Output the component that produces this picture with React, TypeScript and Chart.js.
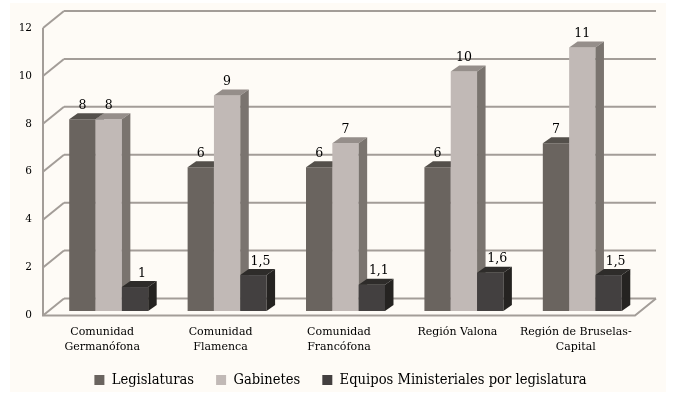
import { useEffect, useRef } from 'react';
import { Chart, registerables } from 'chart.js';

Chart.register(...registerables);

const categories: (string | string[])[] = [
  ['Comunidad', 'Germanófona'],
  ['Comunidad', 'Flamenca'],
  ['Comunidad', 'Francófona'],
  'Región Valona',
  ['Región de Bruselas-', 'Capital'],
];
const legislaturas = [8, 6, 6, 6, 7];
const gabinetes = [8, 9, 7, 10, 11];
const equipos = [1, 1.5, 1.1, 1.6, 1.5];
const seriesNames = ['Legislaturas', 'Gabinetes', 'Equipos Ministeriales por legislatura'];
const yTicks = [0, 2, 4, 6, 8, 10, 12];

const FONT = "'DejaVu Serif', serif";
const FONT_COND = "'DejaVu Serif Condensed', 'DejaVu Serif', serif";
const FRONT = ['#6A645F', '#C1B9B6', '#434040'];
const TOP = ['#54504B', '#958E8A', '#2E2C2A'];
const SIDE = ['#5A5550', '#7A746F', '#252321'];
const GRID = '#A39D98';
const CREAM = '#FEFBF6';
const BAR_SHIFT = { x: 6.5, y: -4.5 };
const BAR_DEPTH = { x: 8.5, y: -6 };
const WALL = { x: 21, y: -17 };
const LABEL_DX = [0, 0, 7];

const bgPlugin = {
  id: 'bg',
  beforeDraw(chart: any) {
    const ctx = chart.ctx;
    ctx.save();
    ctx.fillStyle = '#ffffff';
    ctx.fillRect(0, 0, chart.width, chart.height);
    ctx.fillStyle = CREAM;
    ctx.fillRect(10, 3, 656, 389);
    ctx.restore();
  },
};

const framePlugin = {
  id: 'frame3d',
  beforeDatasetsDraw(chart: any) {
    const { ctx, chartArea, scales } = chart;
    const { left, right, top, bottom } = chartArea;
    const y = scales.y;
    ctx.save();
    ctx.strokeStyle = GRID;
    ctx.lineWidth = 2;
    for (const v of yTicks) {
      const py = y.getPixelForValue(v);
      ctx.beginPath();
      ctx.moveTo(left + WALL.x, py + WALL.y);
      ctx.lineTo(right + WALL.x, py + WALL.y);
      ctx.stroke();
      ctx.beginPath();
      ctx.moveTo(left, py);
      ctx.lineTo(left + WALL.x, py + WALL.y);
      ctx.stroke();
    }
    ctx.beginPath();
    ctx.moveTo(left, top);
    ctx.lineTo(left, bottom);
    ctx.lineTo(right, bottom);
    ctx.lineTo(right + WALL.x, bottom + WALL.y);
    ctx.stroke();
    ctx.restore();
  },
};

const barsPlugin = {
  id: 'bars3d',
  beforeDatasetDraw() {
    return false;
  },
  afterDatasetsDraw(chart: any) {
    const ctx = chart.ctx;
    const n = chart.data.datasets.length;
    ctx.save();
    ctx.translate(BAR_SHIFT.x, BAR_SHIFT.y);
    for (let i = 0; i < n; i++) {
      const meta = chart.getDatasetMeta(i);
      meta.data.forEach((el: any) => {
        const { x, y, base, width } = el.getProps(['x', 'y', 'base', 'width'], true);
        const L = x - width / 2;
        const R = x + width / 2;
        el.draw(ctx);
        ctx.fillStyle = TOP[i];
        ctx.beginPath();
        ctx.moveTo(L, y);
        ctx.lineTo(L + BAR_DEPTH.x, y + BAR_DEPTH.y);
        ctx.lineTo(R + BAR_DEPTH.x, y + BAR_DEPTH.y);
        ctx.lineTo(R, y);
        ctx.closePath();
        ctx.fill();
        ctx.fillStyle = SIDE[i];
        ctx.beginPath();
        ctx.moveTo(R, y);
        ctx.lineTo(R + BAR_DEPTH.x, y + BAR_DEPTH.y);
        ctx.lineTo(R + BAR_DEPTH.x, base + BAR_DEPTH.y);
        ctx.lineTo(R, base);
        ctx.closePath();
        ctx.fill();
      });
    }
    ctx.fillStyle = '#000';
    ctx.font = `12.5px ${FONT}`;
    ctx.textAlign = 'center';
    ctx.textBaseline = 'alphabetic';
    for (let i = 0; i < n; i++) {
      const meta = chart.getDatasetMeta(i);
      const values = chart.data.datasets[i].data as number[];
      meta.data.forEach((el: any, j: number) => {
        const { x, y } = el.getProps(['x', 'y'], true);
        const txt = String(values[j]).replace('.', ',');
        ctx.fillText(txt, x + LABEL_DX[i], y + BAR_DEPTH.y - 4.5);
      });
    }
    ctx.restore();
  },
};

export default function App() {
  const ref = useRef<HTMLCanvasElement>(null);
  useEffect(() => {
    const canvas = ref.current!;
    const seriesData = [legislaturas, gabinetes, equipos];
    const chart = new Chart(canvas, {
      type: 'bar',
      data: {
        labels: categories as any,
        datasets: seriesNames.map((name, i) => ({
          label: name,
          data: seriesData[i],
          backgroundColor: FRONT[i],
          borderWidth: 0,
          clip: false as any,
        })),
      },
      options: {
        responsive: false,
        animation: false,
        events: [],
        devicePixelRatio: 1,
        layout: { padding: { left: 8, right: 0, top: 28, bottom: -1.3 } },
        datasets: { bar: { categoryPercentage: 0.667, barPercentage: 1 } },
        scales: {
          x: {
            grid: { display: false, drawTicks: false },
            border: { display: false },
            ticks: {
              color: '#000',
              font: { family: FONT, size: 11, lineHeight: '15px' },
              padding: 9,
              maxRotation: 0,
              autoSkip: false,
            },
            afterFit: (s: any) => {
              s.height = 35.2;
              s._computeLabelArea = () => undefined;
            },
          },
          y: {
            min: 0,
            max: 12,
            grid: { display: false, drawTicks: false },
            border: { display: false },
            ticks: {
              stepSize: 2,
              color: '#000',
              font: { family: FONT, size: 10.5 },
              padding: 11,
            },
            afterFit: (s: any) => {
              s.width = 35;
            },
          },
          yRight: {
            position: 'right',
            display: true,
            grid: { display: false, drawTicks: false },
            border: { display: false },
            ticks: { display: false },
            afterFit: (s: any) => {
              s.width = 38;
            },
          },
        },
        plugins: {
          legend: {
            position: 'bottom',
            labels: {
              boxWidth: 10,
              boxHeight: 10,
              padding: 22,
              color: '#000',
              font: { family: FONT_COND, size: 14.6 },
            },
          },
          tooltip: { enabled: false },
        },
      } as any,
      plugins: [bgPlugin, framePlugin, barsPlugin],
    });
    return () => chart.destroy();
  }, []);
  return (
    <div style={{ position: 'absolute', left: 0, top: 0, width: 673, height: 396, overflow: 'hidden' }}>
      <canvas ref={ref} width={673} height={396} style={{ display: 'block', width: 673, height: 396 }} />
    </div>
  );
}
